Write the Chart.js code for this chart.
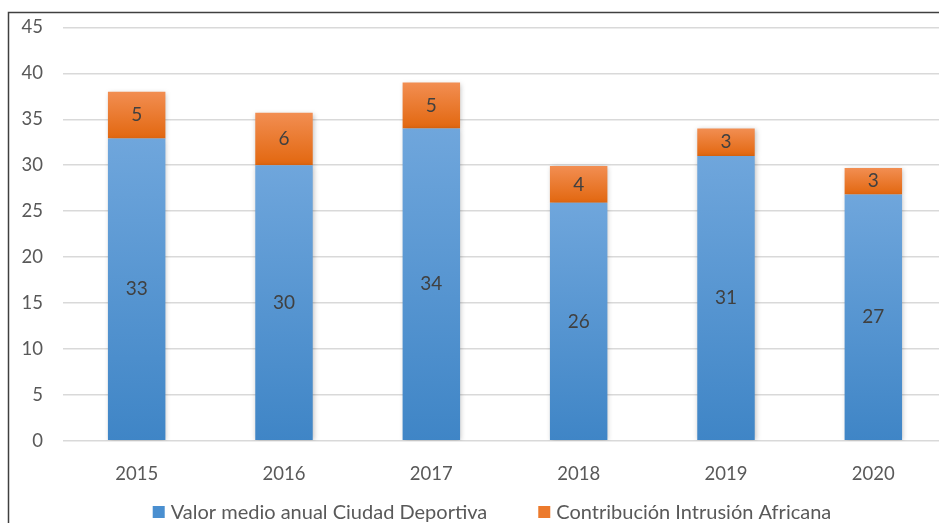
<!DOCTYPE html>
<html>
<head>
<meta charset="utf-8">
<script src="https://cdn.jsdelivr.net/npm/chart.js@4"></script>
<style>
  html, body { margin: 0; padding: 0; background: #fff; overflow: hidden; }
  #wrap { width: 950px; height: 523px; }
</style>
</head>
<body>
<div id="wrap"><canvas id="myChart"></canvas></div>
<script>
// datos
const anios = ['2015', '2016', '2017', '2018', '2019', '2020']
const valorMedio = [32.9, 30, 34, 25.9, 31, 26.8]
const intrusionAfricana = [5.1, 5.7, 5, 4, 3, 2.9]
const etiquetasSerie = ['Valor medio anual Ciudad Deportiva', 'Contribución Intrusión Africana']
const coloresLeyenda = ['#4A8FD0', '#EC7A2C']

const fuente = 'Lato, "Liberation Sans", sans-serif'

/**
 * degradado vertical por barra
 */
function degradado(context, arriba, abajo) {
  const chart = context.chart
  if (!chart.chartArea || context.type !== 'data') return abajo
  const y = chart.scales.y
  const i = context.dataIndex
  let base = 0
  let tope = valorMedio[i]
  if (context.datasetIndex === 1) {
    base = valorMedio[i]
    tope = valorMedio[i] + intrusionAfricana[i]
  }
  const g = chart.ctx.createLinearGradient(0, y.getPixelForValue(tope), 0, y.getPixelForValue(base))
  g.addColorStop(0, arriba)
  g.addColorStop(1, abajo)
  return g
}

// sombra suave en las barras
const sombraPlugin = {
  id: 'sombra',
  beforeDatasetsDraw(chart) {
    const ctx = chart.ctx
    ctx.save()
    ctx.shadowColor = 'rgba(0,0,0,0.25)'
    ctx.shadowBlur = 5
    ctx.shadowOffsetX = 1
    ctx.shadowOffsetY = 1
  },
  afterDatasetsDraw(chart) {
    chart.ctx.restore()
  }
}

// numeros dentro de cada segmento
const etiquetasPlugin = {
  id: 'etiquetas',
  afterDatasetsDraw(chart) {
    const ctx = chart.ctx
    ctx.save()
    ctx.font = '19px ' + fuente
    ctx.fillStyle = '#404040'
    ctx.textAlign = 'center'
    ctx.textBaseline = 'middle'
    chart.data.datasets.forEach((ds, d) => {
      chart.getDatasetMeta(d).data.forEach((bar, i) => {
        const yMid = (bar.y + bar.base) / 2
        ctx.fillText(Math.round(ds.data[i]), bar.x, yMid)
      })
    })
    ctx.restore()
  }
}

// leyenda dibujada a mano (separacion amplia entre series)
const leyendaPlugin = {
  id: 'leyenda',
  afterDraw(chart) {
    const ctx = chart.ctx
    ctx.save()
    ctx.font = '20px ' + fuente
    ctx.textBaseline = 'middle'
    const caja = 12, hueco = 6, separacion = 51
    const anchos = etiquetasSerie.map(t => ctx.measureText(t).width)
    const total = anchos.reduce((a, b) => a + b, 0) + etiquetasSerie.length * (caja + hueco) + separacion
    let x = 492 - total / 2
    const y = 512
    etiquetasSerie.forEach((t, i) => {
      ctx.fillStyle = coloresLeyenda[i]
      ctx.fillRect(x, y - caja / 2, caja, caja)
      x += caja + hueco
      ctx.fillStyle = '#595959'
      ctx.fillText(t, x, y + 1)
      x += anchos[i] + separacion
    })
    ctx.restore()
  }
}

// marco izquierdo y superior
const marcoPlugin = {
  id: 'marco',
  afterDraw(chart) {
    const ctx = chart.ctx
    ctx.save()
    ctx.strokeStyle = '#404040'
    ctx.lineWidth = 1.5
    ctx.beginPath()
    ctx.moveTo(8.5, chart.height)
    ctx.lineTo(8.5, 12.5)
    ctx.lineTo(chart.width, 12.5)
    ctx.stroke()
    ctx.restore()
  }
}

document.addEventListener('DOMContentLoaded', () => {
  const ctx = document.getElementById('myChart')

  new Chart(ctx, {
    type: 'bar',
    data: {
      labels: anios,
      datasets: [{
        label: etiquetasSerie[0],
        data: valorMedio,
        backgroundColor: c => degradado(c, '#6FA6DC', '#3F85C6'),
        barPercentage: 0.39,
        categoryPercentage: 1
      }, {
        label: etiquetasSerie[1],
        data: intrusionAfricana,
        backgroundColor: c => degradado(c, '#F28E52', '#E2670F'),
        barPercentage: 0.39,
        categoryPercentage: 1
      }]
    },
    options: {
      responsive: true,
      maintainAspectRatio: false,
      animation: false,
      layout: { padding: { top: 2, right: 3, left: 0, bottom: 24 } },
      plugins: {
        tooltip: { enabled: false },
        legend: { display: false }
      },
      scales: {
        x: {
          stacked: true,
          grid: { display: false },
          border: { display: false },
          ticks: { font: { family: fuente, size: 18.5 }, color: '#595959', padding: 14 }
        },
        y: {
          stacked: true,
          min: 0,
          max: 45,
          afterFit: scale => { scale.width = 63 },
          grid: { color: '#D9D9D9', lineWidth: 1.5, drawTicks: false },
          border: { display: false },
          ticks: { stepSize: 5, font: { family: fuente, size: 18.5, lineHeight: 0.8 }, color: '#595959', padding: 20 }
        }
      }
    },
    plugins: [sombraPlugin, etiquetasPlugin, leyendaPlugin, marcoPlugin]
  })
})
</script>
</body>
</html>
